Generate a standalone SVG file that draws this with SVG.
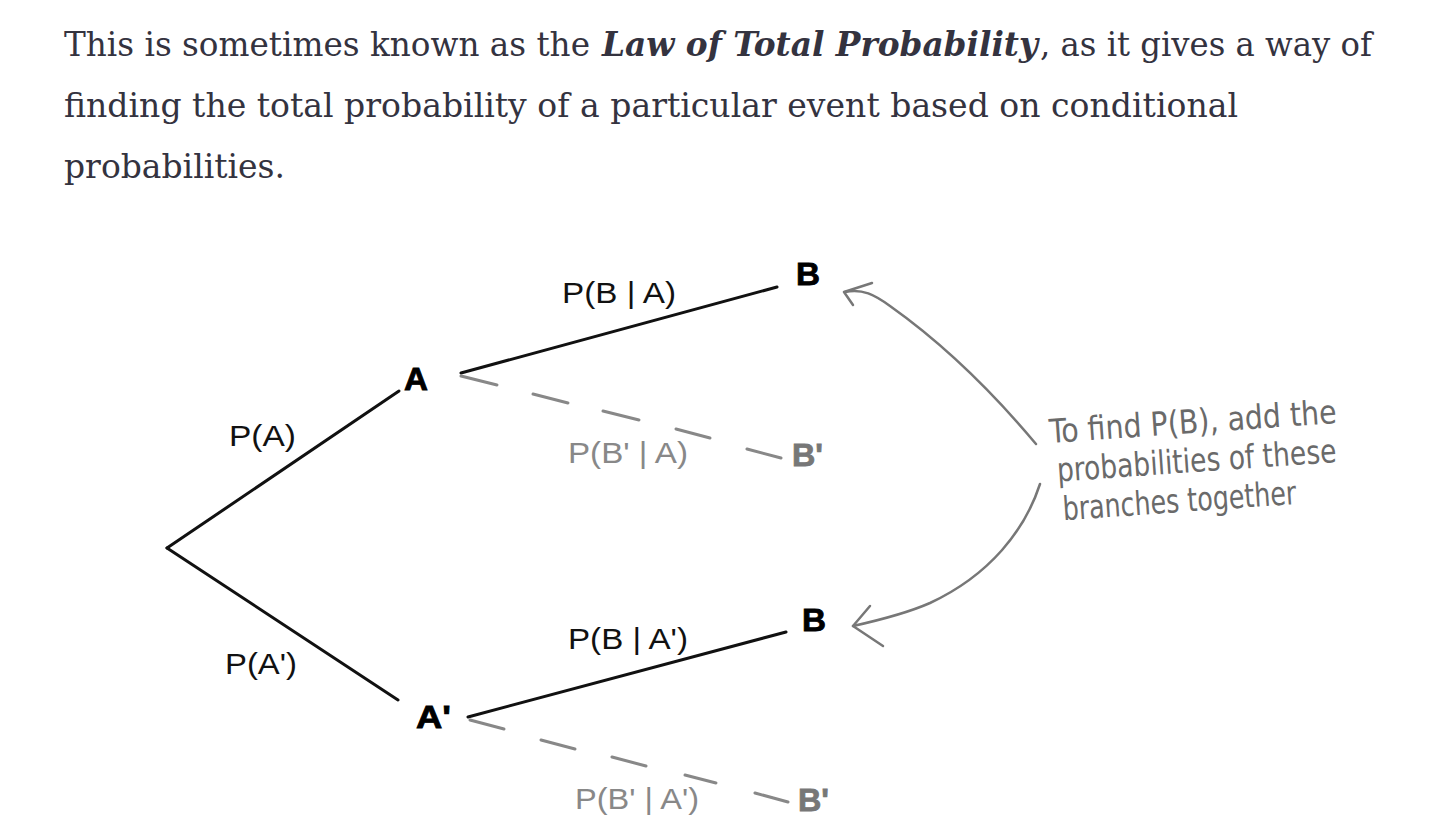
<svg xmlns="http://www.w3.org/2000/svg" width="1430" height="832" viewBox="0 0 1430 832">
<style>
.hdr{font-family:"DejaVu Serif","Liberation Serif",serif;font-size:33px;fill:#34333f}
.hb{font-weight:bold;font-style:italic}
.lbl{font-family:"Liberation Sans",Arial,sans-serif;font-size:30px;fill:#111}
.glbl{font-family:"Liberation Sans",Arial,sans-serif;font-size:30px;fill:#888}
.node{font-family:"Liberation Sans",Arial,sans-serif;font-size:31px;font-weight:bold;fill:#000;stroke:#000;stroke-width:0.8}
.gnode{font-family:"Liberation Sans",Arial,sans-serif;font-size:31px;font-weight:bold;fill:#777;stroke:#777;stroke-width:0.8}
.hand{font-family:"DejaVu Sans Condensed","DejaVu Sans",sans-serif;font-size:33px;fill:#6a6a6a}
.solid{stroke:#111;stroke-width:3;fill:none;stroke-linecap:round}
.dash{stroke:#888;stroke-width:3;fill:none;stroke-linecap:round}
.arr{stroke:#777;stroke-width:2.5;fill:none;stroke-linecap:round;stroke-linejoin:round}
</style>
<rect width="1430" height="832" fill="#fff"/>
<g id="header">
<text class="hdr" x="64" y="56" textLength="526" lengthAdjust="spacingAndGlyphs">This is sometimes known as the</text>
<text class="hdr hb" x="602" y="56" textLength="436" lengthAdjust="spacingAndGlyphs">Law of Total Probability</text>
<text class="hdr" x="1040" y="56" textLength="332" lengthAdjust="spacingAndGlyphs">, as it gives a way of</text>
<text class="hdr" x="64" y="117" textLength="1174" lengthAdjust="spacingAndGlyphs">finding the total probability of a particular event based on conditional</text>
<text class="hdr" x="64" y="178" textLength="221" lengthAdjust="spacingAndGlyphs">probabilities.</text>
</g>
<g id="connectors">
<line class="solid" x1="167" y1="548" x2="399" y2="391"/>
<line class="solid" x1="167" y1="548" x2="398" y2="700"/>
<line class="solid" x1="461" y1="373" x2="777" y2="287"/>
<line class="solid" x1="468" y1="717" x2="786" y2="632"/>
<g class="dash">
<line x1="461" y1="376" x2="497" y2="385"/>
<line x1="533" y1="394" x2="568" y2="403"/>
<line x1="603" y1="411" x2="639" y2="420"/>
<line x1="676" y1="429" x2="710" y2="438"/>
<line x1="747" y1="449" x2="781" y2="458"/>
<line x1="470" y1="720" x2="504" y2="729"/>
<line x1="541" y1="740" x2="575" y2="749"/>
<line x1="612" y1="757" x2="646" y2="766"/>
<line x1="685" y1="775" x2="716" y2="783"/>
<line x1="755" y1="793" x2="788" y2="802"/>
</g>
</g>
<g id="edge-labels">
<text class="lbl" x="229" y="446" textLength="67" lengthAdjust="spacingAndGlyphs">P(A)</text>
<text class="lbl" x="225" y="674" textLength="72" lengthAdjust="spacingAndGlyphs">P(A')</text>
<text class="lbl" x="562" y="303" textLength="114" lengthAdjust="spacingAndGlyphs">P(B | A)</text>
<text class="glbl" x="568" y="463" textLength="120" lengthAdjust="spacingAndGlyphs">P(B' | A)</text>
<text class="lbl" x="568" y="649" textLength="120" lengthAdjust="spacingAndGlyphs">P(B | A')</text>
<text class="glbl" x="575" y="809" textLength="124" lengthAdjust="spacingAndGlyphs">P(B' | A')</text>
</g>
<g id="node-A"><text class="node" x="404" y="390" textLength="24" lengthAdjust="spacingAndGlyphs">A</text></g>
<g id="node-A2"><text class="node" x="416" y="728" textLength="35" lengthAdjust="spacingAndGlyphs">A'</text></g>
<g id="node-B1"><text class="node" x="796" y="285" textLength="24" lengthAdjust="spacingAndGlyphs">B</text></g>
<g id="node-B1p"><text class="gnode" x="792" y="466" textLength="31" lengthAdjust="spacingAndGlyphs">B'</text></g>
<g id="node-B2"><text class="node" x="802" y="631" textLength="24" lengthAdjust="spacingAndGlyphs">B</text></g>
<g id="node-B2p"><text class="gnode" x="798" y="811" textLength="31" lengthAdjust="spacingAndGlyphs">B'</text></g>
<g id="annotation">
<g transform="rotate(-4 1050 443)">
<text class="hand" x="1050" y="443" textLength="288" lengthAdjust="spacingAndGlyphs">To find P(B), add the</text>
<text class="hand" x="1055" y="482" textLength="280" lengthAdjust="spacingAndGlyphs">probabilities of these</text>
<text class="hand" x="1058" y="521" textLength="234" lengthAdjust="spacingAndGlyphs">branches together</text>
</g>
<path class="arr" d="M1036,444 C995,395 945,345 890,306 C875,295 862,288 845,292"/>
<path class="arr" d="M872,283 L844,292 L853,305"/>
<path class="arr" d="M1040,484 C1025,530 990,575 930,603 C905,614 880,620 853,626"/>
<path class="arr" d="M870,606 L853,626 L883,646"/>
</g>
</svg>
